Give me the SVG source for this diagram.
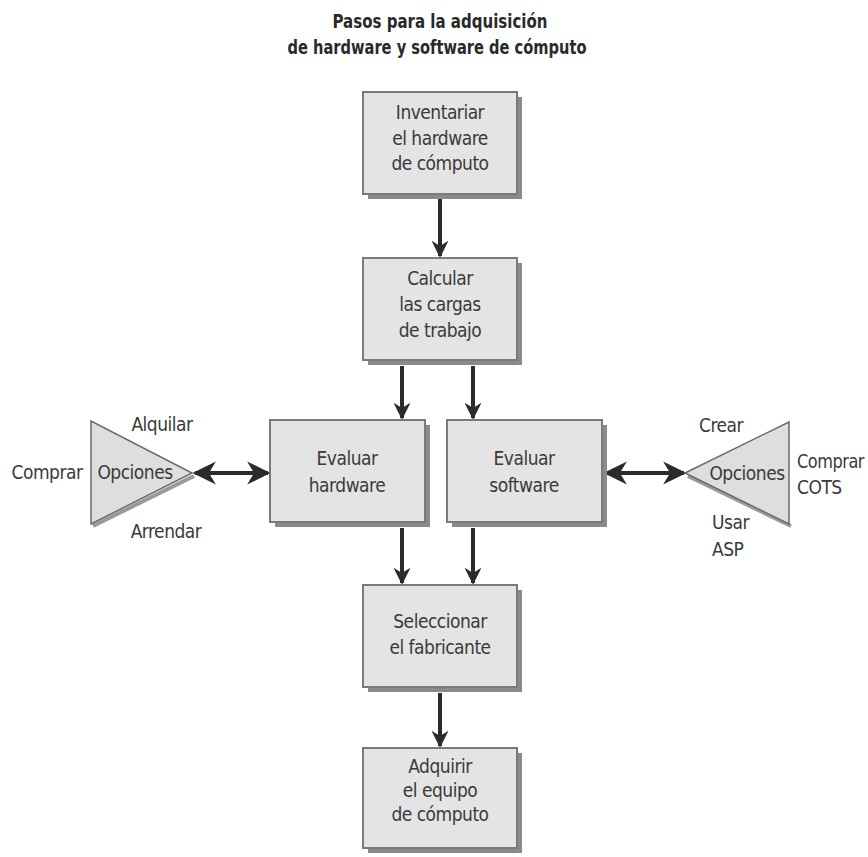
<svg xmlns="http://www.w3.org/2000/svg" width="868" height="857" viewBox="0 0 868 857">
<style>
.t{font-family:"DejaVu Sans Condensed","Liberation Sans Narrow","Liberation Sans",sans-serif;font-stretch:condensed;fill:#3a3a3a;font-size:19px;text-anchor:middle;letter-spacing:-0.5px}
.l{text-anchor:start}
.title{font-weight:bold;font-size:20px;fill:#2a2a2a;letter-spacing:0}
.box{fill:#e4e4e4;stroke:#7a7a7a;stroke-width:2}
.sh{fill:#8a8a8a}
.c{stroke:#2b2b2b;stroke-width:4;fill:none}
.tri{fill:#dedede;stroke:#6a6a6a;stroke-width:1.5}
.trish{fill:none;stroke:#9a9a9a;stroke-width:4}
</style>
<defs>
<marker id="ah" viewBox="0 0 10 10" refX="9" refY="5" markerWidth="4.2" markerHeight="4.2" orient="auto-start-reverse" markerUnits="strokeWidth">
<path d="M0,0 L10,5 L0,10 L3,5 Z" fill="#2b2b2b"/>
</marker>
<marker id="ahb" viewBox="0 0 10 10" refX="9" refY="5" markerWidth="5.8" markerHeight="5.8" orient="auto-start-reverse" markerUnits="strokeWidth">
<path d="M0,0 L10,5 L0,10 L3,5 Z" fill="#2b2b2b"/>
</marker>
</defs>
<rect width="868" height="857" fill="#ffffff"/>
<g id="title">
<text class="t title" x="440" y="28" textLength="215" lengthAdjust="spacingAndGlyphs">Pasos para la adquisición</text>
<text class="t title" x="437" y="54" textLength="299" lengthAdjust="spacingAndGlyphs">de hardware y software de cómputo</text>
</g>
<g id="connectors">
<line class="c" x1="440" y1="199" x2="440" y2="256" marker-end="url(#ah)"/>
<line class="c" x1="402" y1="366" x2="402" y2="418" marker-end="url(#ah)"/>
<line class="c" x1="473" y1="366" x2="473" y2="418" marker-end="url(#ah)"/>
<line class="c" x1="402" y1="528" x2="402" y2="583" marker-end="url(#ah)"/>
<line class="c" x1="473" y1="528" x2="473" y2="583" marker-end="url(#ah)"/>
<line class="c" x1="440" y1="693" x2="440" y2="746" marker-end="url(#ah)"/>
<line class="c" x1="195" y1="473" x2="268" y2="473" marker-start="url(#ahb)" marker-end="url(#ahb)"/>
<line class="c" x1="606" y1="473" x2="684" y2="473" marker-start="url(#ahb)" marker-end="url(#ahb)"/>
</g>
<g id="n1">
<rect class="sh" x="368" y="97" width="154" height="102"/>
<rect class="box" x="363" y="92" width="154" height="102"/>
<text class="t" x="440" y="119">Inventariar</text>
<text class="t" x="440" y="145">el hardware</text>
<text class="t" x="440" y="170">de cómputo</text>
</g>
<g id="n2">
<rect class="sh" x="368" y="263" width="154" height="102"/>
<rect class="box" x="363" y="258" width="154" height="102"/>
<text class="t" x="440" y="285">Calcular</text>
<text class="t" x="440" y="311">las cargas</text>
<text class="t" x="440" y="337">de trabajo</text>
</g>
<g id="n3">
<rect class="sh" x="275" y="425" width="155" height="102"/>
<rect class="box" x="270" y="420" width="155" height="102"/>
<text class="t" x="347" y="465">Evaluar</text>
<text class="t" x="347" y="492">hardware</text>
</g>
<g id="n4">
<rect class="sh" x="452" y="425" width="155" height="102"/>
<rect class="box" x="447" y="420" width="155" height="102"/>
<text class="t" x="524" y="465">Evaluar</text>
<text class="t" x="524" y="492">software</text>
</g>
<g id="n5">
<rect class="sh" x="368" y="590" width="154" height="102"/>
<rect class="box" x="363" y="585" width="154" height="102"/>
<text class="t" x="440" y="628">Seleccionar</text>
<text class="t" x="440" y="654">el fabricante</text>
</g>
<g id="n6">
<rect class="sh" x="368" y="753" width="154" height="100"/>
<rect class="box" x="363" y="748" width="154" height="100"/>
<text class="t" x="440" y="773">Adquirir</text>
<text class="t" x="440" y="797">el equipo</text>
<text class="t" x="440" y="821">de cómputo</text>
</g>
<g id="opt-left">
<line class="trish" x1="93" y1="526" x2="194" y2="476"/>
<polygon class="tri" points="91,421 91,524 192,473"/>
<text class="t" x="135" y="479">Opciones</text>
<text class="t" x="162" y="431">Alquilar</text>
<text class="t" x="47" y="479">Comprar</text>
<text class="t" x="166" y="538">Arrendar</text>
</g>
<g id="opt-right">
<line class="trish" x1="688" y1="476" x2="791" y2="526"/>
<polygon class="tri" points="685,473 789,422 789,524"/>
<text class="t" x="747" y="480">Opciones</text>
<text class="t" x="721" y="432">Crear</text>
<text class="t l" x="797" y="468" textLength="67" lengthAdjust="spacingAndGlyphs">Comprar</text>
<text class="t l" x="797" y="494">COTS</text>
<text class="t l" x="712" y="529">Usar</text>
<text class="t l" x="712" y="556">ASP</text>
</g>
</svg>
